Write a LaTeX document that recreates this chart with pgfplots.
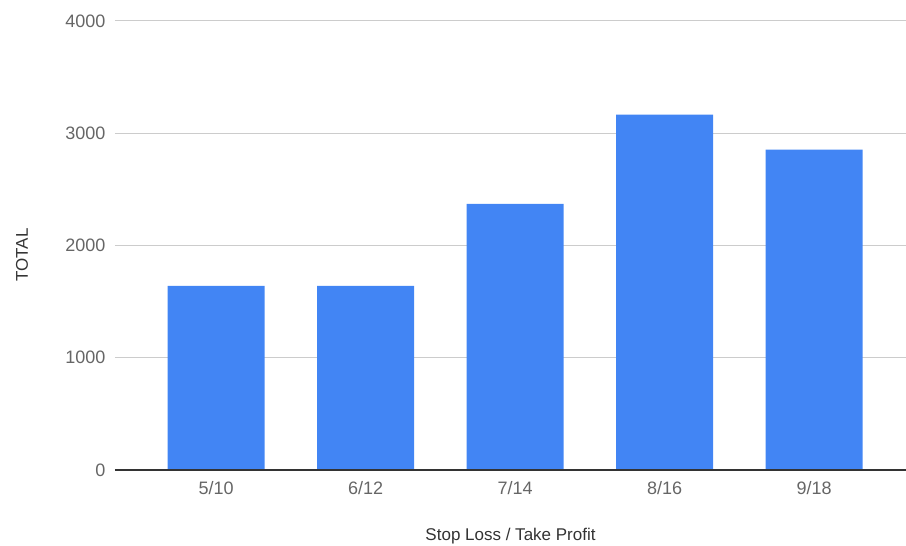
\documentclass[border=0pt]{standalone}
\usepackage{pgfplots}
\pgfplotsset{compat=1.18}
\usepackage{fontspec}
\setmainfont{Liberation Sans}
\definecolor{barblue}{HTML}{4285F4}
\definecolor{tickgray}{HTML}{666666}
\definecolor{labgray}{HTML}{333333}
\definecolor{gridgray}{HTML}{CCCCCC}
\begin{document}
\begin{tikzpicture}[x=1pt,y=1pt]
\path[use as bounding box] (-115pt,-76pt) rectangle (791pt,470pt);
\begin{axis}[
  at={(0,0)}, anchor=south west,
  scale only axis, width=791pt, height=449pt,
  xmin=-0.676, xmax=4.615, ymin=0, ymax=4000,
  axis line style={draw=none},
  xtick={0,1,2,3,4},
  xticklabels={5/10,6/12,7/14,8/16,9/18},
  ytick={0,1000,2000,3000,4000},
  major tick length=0pt,
  ymajorgrids, grid style={gridgray, line width=1pt},
  ticklabel style={font=\fontsize{18}{20}\selectfont, text=tickgray},
  /pgf/number format/assume math mode=true,
  yticklabel style={xshift=-6pt},
  xticklabel style={yshift=-8pt},
  scaled y ticks=false,
  yticklabel={\pgfmathprintnumber[fixed,1000 sep={}]{\tick}},
  xlabel={Stop Loss / Take Profit},
  ylabel={TOTAL},
  label style={font=\fontsize{17}{19}\selectfont, text=labgray},
  xlabel style={at={(axis description cs:0.5,0)}, anchor=center, yshift=-66pt},
  ylabel style={at={(axis description cs:0,0.479)}, anchor=center, rotate=0, yshift=93pt},
  clip=false,
]
\addplot[ybar, bar width=97pt, fill=barblue, draw=none] coordinates {
  (0,1640) (1,1640) (2,2370) (3,3165) (4,2855)
};
\draw[black!80, line width=1.2pt] (axis cs:-0.676,0) -- (axis cs:4.615,0);
\end{axis}
\end{tikzpicture}
\end{document}
